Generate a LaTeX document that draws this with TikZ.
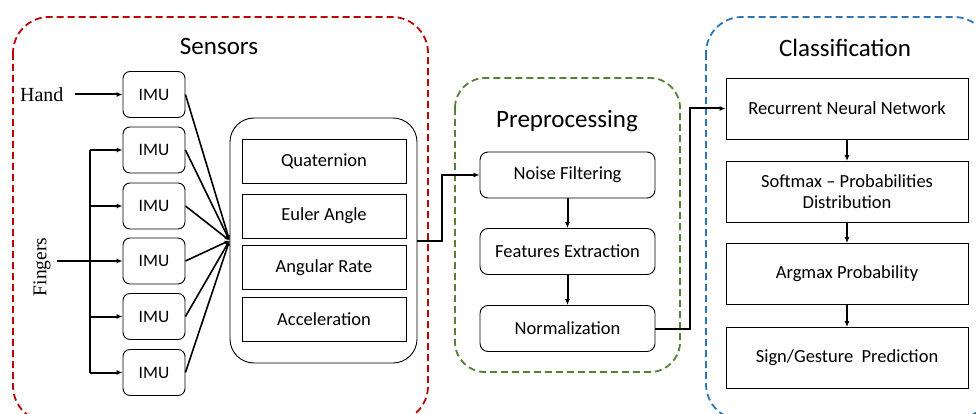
\documentclass[tikz,border=0pt]{standalone}
\usepackage{fontspec}
\setmainfont{Carlito}
\newfontfamily\timesf{Liberation Serif}
\usetikzlibrary{arrows.meta}
\definecolor{cred}{RGB}{192,0,0}
\definecolor{cgreen}{RGB}{84,130,53}
\definecolor{cblue}{RGB}{46,117,182}
\begin{document}
\begin{tikzpicture}[x=1pt,y=-1pt,
  lbl/.style={font=\fontsize{18.5}{21}\selectfont},
  imubox/.style={draw,rounded corners=7pt,minimum width=62pt,minimum height=46pt,inner sep=0pt,font=\fontsize{17.5}{20}\selectfont,line width=0.9pt},
  featbox/.style={draw,lbl,minimum width=164pt,minimum height=44pt,inner sep=0pt,line width=0.9pt},
  prebox/.style={draw,lbl,rounded corners=8pt,minimum width=175pt,minimum height=46pt,inner sep=0pt,line width=0.9pt},
  clsbox/.style={draw,lbl,minimum width=242pt,minimum height=61pt,inner sep=0pt,align=center,line width=0.9pt},
  group/.style={dash pattern=on 7pt off 4pt,line width=1.8pt,rounded corners=36pt},
  title/.style={font=\fontsize{25}{29}\selectfont},
  arr/.style={line width=2pt,-{Latex[length=6pt,width=5pt]}},
  ln/.style={line width=2pt}
]
\clip (0,0) rectangle (976,414);
\useasboundingbox (0,0) rectangle (976,414);
% groups
\draw[group,cred] (13,17) rectangle (428,422);
\draw[group,cgreen,rounded corners=30pt] (455,78) rectangle (680,372);
\draw[group,cblue] (706,17) rectangle (990,420);
\node[title] (tsens) at (219,46) {Sensors};
\node[title] (tpre) at (567,121) {Preprocessing};
\node[title] (tcls) at (845,48) {Classification};
% IMUs
\node[imubox] (i1) at (154,94.5) {IMU};
\node[imubox] (i2) at (154,150) {IMU};
\node[imubox] (i3) at (154,206) {IMU};
\node[imubox] (i4) at (154,261) {IMU};
\node[imubox] (i5) at (154,316.5) {IMU};
\node[imubox] (i6) at (154,372.5) {IMU};
\node[font=\timesf\fontsize{20}{23}\selectfont,anchor=east] (hand) at (67,94.5) {Hand};
\node[font=\timesf\fontsize{19.5}{22}\selectfont,rotate=90] (fing) at (42,267) {Fingers};
\draw[arr] (75,94.5) -- (i1.west);
\coordinate (fs) at (57,261);
\draw[arr] (fs) -- (i4.west);
\coordinate (vt) at (90,150);
\coordinate (vb) at (90,372.5);
\draw[ln] (vt) -- (vb);
\draw[arr] (vt) -- (i2.west);
\draw[arr] (90,206) -- (i3.west);
\draw[arr] (90,316.5) -- (i5.west);
\draw[arr] (vb) -- (i6.west);
% big box
\node[draw,rounded corners=24pt,minimum width=187pt,minimum height=245pt,line width=0.9pt] (big) at (323.5,240.5) {};
\node[featbox] (q) at (324,161) {Quaternion};
\node[featbox] (e) at (324,216) {Euler Angle};
\node[featbox] (a) at (324,267.5) {Angular Rate};
\node[featbox] (c) at (324,319.5) {Acceleration};
\foreach \n in {i1,i2,i3,i4,i5,i6}{
  \draw[line width=1.6pt,-{Latex[length=5pt,width=4pt]}] (\n.east) -- (big.west);
}
% preprocessing
\node[prebox] (nf) at (567.5,175) {Noise Filtering};
\node[prebox] (fe) at (567.5,251.5) {Features Extraction};
\node[prebox] (no) at (567.5,328.5) {Normalization};
\draw[arr] (big.east) -- (442,240.5) |- (nf.west);
\draw[arr] (nf) -- (fe);
\draw[arr] (fe) -- (no);
% classification
\node[clsbox] (rnn) at (847,108.5) {Recurrent Neural Network};
\node[clsbox] (sm) at (847,192) {Softmax -- Probabilities\\Distribution};
\node[clsbox] (am) at (847,274) {Argmax Probability};
\node[clsbox] (sg) at (847,358) {Sign/Gesture\ \ Prediction};
\draw[arr] (no.east) -- (690,328.5) |- (rnn.west);
\draw[arr] (rnn) -- (sm);
\draw[arr] (sm) -- (am);
\draw[arr] (am) -- (sg);
\end{tikzpicture}
\end{document}
